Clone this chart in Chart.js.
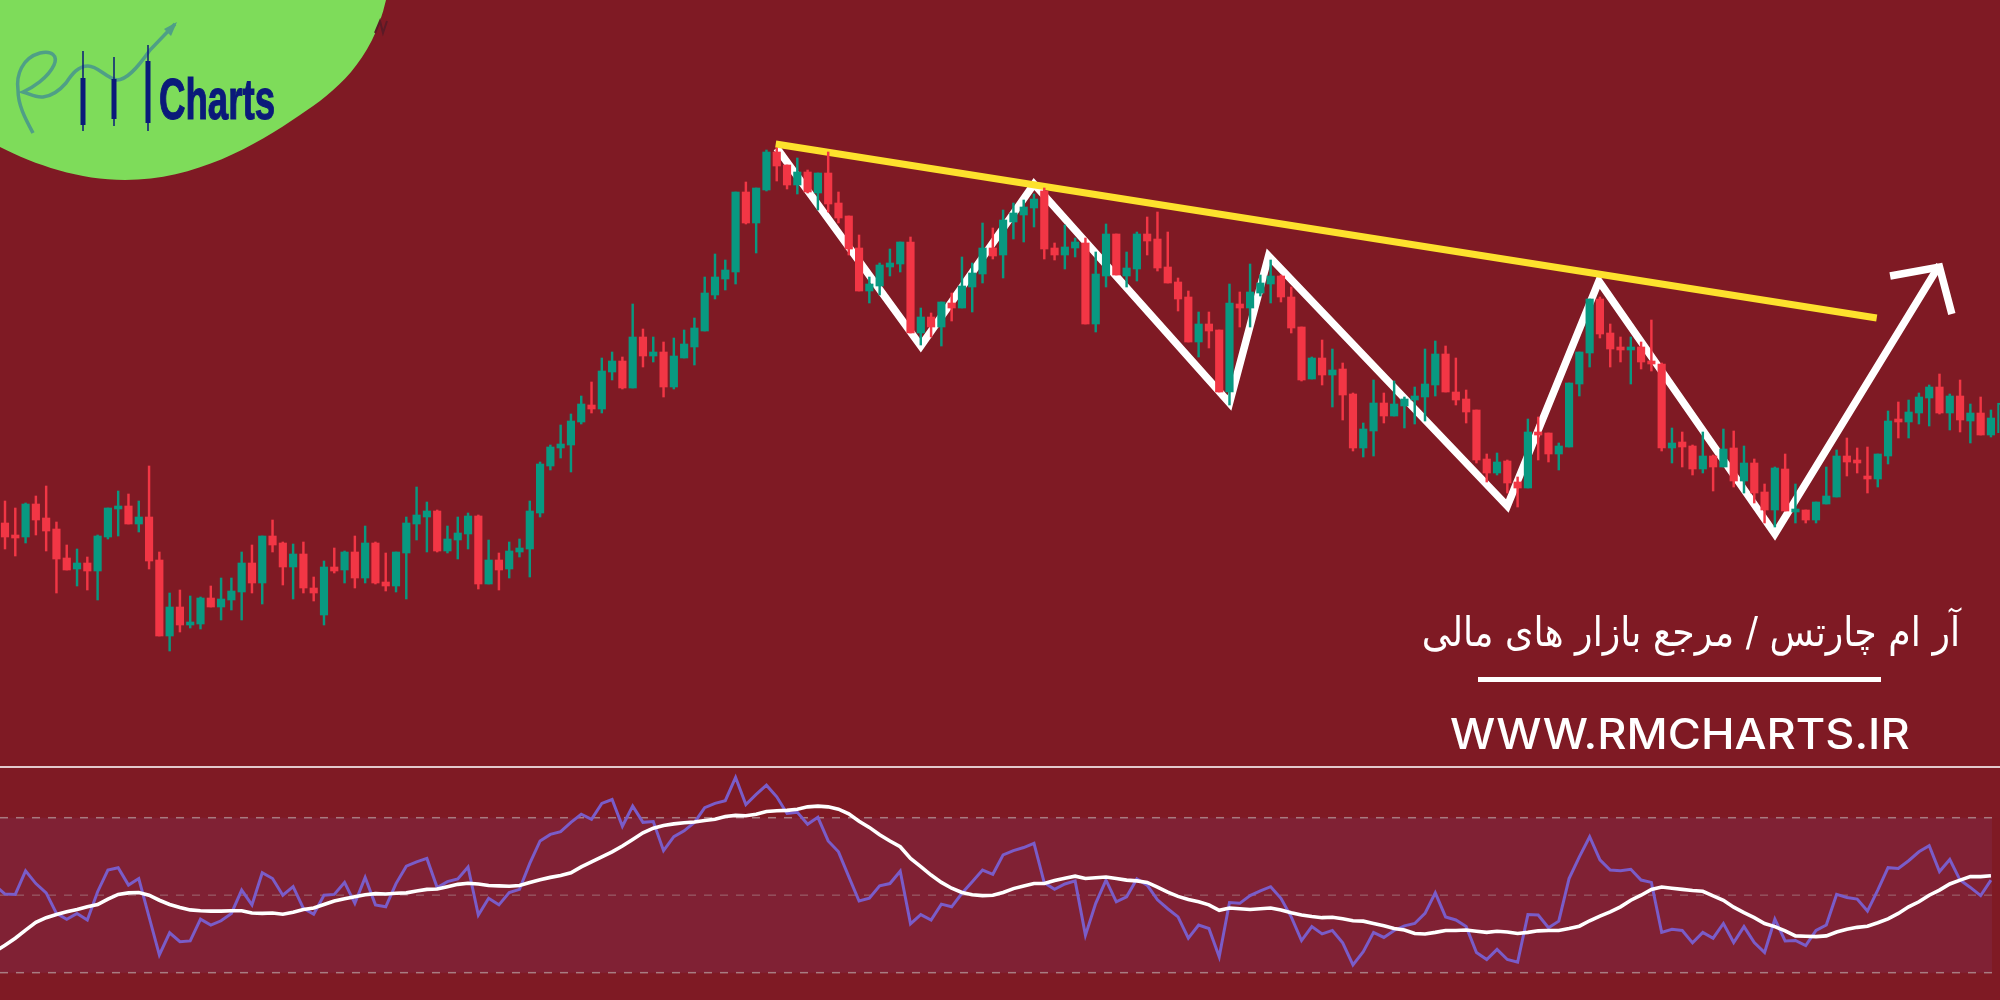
<!DOCTYPE html>
<html>
<head>
<meta charset="utf-8">
<script src="https://cdn.jsdelivr.net/npm/chart.js@4/dist/chart.umd.min.js"></script>
<style>
html, body { margin: 0; padding: 0; width: 2000px; height: 1000px; overflow: hidden; background: #7f1a24; }
canvas { position: absolute; left: 0; filter: blur(0.5px); }
#mainChart { top: 0; }
#rsiChart { top: 768px; }
#sep { position: absolute; left: 0; top: 766px; width: 2000px; height: 2px; background: #e2c9cc; }
#logo { position: absolute; left: 0; top: 0; }
#title { position: absolute; left: 1300px; width: 660px; top: 608px; text-align: right; direction: rtl; color: #fff; font: 41px "DejaVu Sans"; white-space: nowrap; transform: scaleX(0.885); transform-origin: right center; }
#rule { position: absolute; left: 1478px; top: 677px; width: 403px; height: 5px; background: #fff; }
#site { position: absolute; left: 1450px; top: 708px; color: #fff; font: 500 42px Inter; white-space: nowrap; transform: scaleX(1.075); transform-origin: left center; }
</style>
</head>
<body>
<canvas id="mainChart" width="2000" height="766"></canvas>
<canvas id="rsiChart" width="2000" height="232"></canvas>
<div id="sep"></div>
<svg id="logo" width="420" height="200">
  <path d="M0,0 L386,0 C372,62 335,92 300,115 C255,146 195,180 125,180 C80,180 35,165 0,147 Z" fill="#7edc5a"/>
  <path d="M33,133 C25,118 18,105 18,90 C16,75 22,58 40,53 C52,50 58,56 54,65 C48,78 32,88 23,92 C30,94 36,98 43,97 C52,96 60,90 66,83 C72,74 78,66 88,66 C98,66 106,78 117,80 C126,80 136,70 150,50 L175,24" fill="none" stroke="#4f9f86" stroke-width="3.5"/>
  <path d="M177,22 L164,29 L171,36 Z" fill="#4f9f86"/>
  <g stroke="#0a1a7a" fill="#0a1a7a">
    <line x1="83" y1="51" x2="83" y2="131" stroke-width="1.5"/><rect x="80.5" y="78" width="5" height="47" stroke="none"/>
    <line x1="114" y1="57" x2="114" y2="126" stroke-width="1.5"/><rect x="111.5" y="79" width="5" height="40" stroke="none"/>
    <line x1="148" y1="45" x2="148" y2="131" stroke-width="1.5"/><rect x="145.5" y="61" width="5" height="62" stroke="none"/>
  </g>
  <text x="159" y="119" font-family="Liberation Sans Narrow, Liberation Sans" font-weight="700" font-size="57" textLength="116" lengthAdjust="spacingAndGlyphs" fill="#0a1a7a" stroke="#0a1a7a" stroke-width="1.2">Charts</text>
  <path d="M375,33 L380,21 L383,33 L387,21" fill="none" stroke="#5a1a26" stroke-width="2"/>
</svg>
<div id="title">آر ام چارتس / مرجع بازار های مالی</div>
<div id="rule"></div>
<div id="site">WWW.RMCHARTS.IR</div>
<script>
// candles, one per bar
var opens = [
  477,464,463,496,482,471,442,431,437,429,
  463,491,494,476,483,440,364,393,375,376,
  402,393,400,408,437,417,464,457,433,446,
  412,385,433,430,448,422,457,418,414,447,
  476,483,489,449,460,466,484,416,440,431,
  448,451,487,534,552,555,578,595,591,628,
  639,612,663,644,648,613,642,653,669,705,
  721,728,808,777,810,848,835,815,828,807,
  827,797,784,752,709,714,733,736,758,667,
  683,673,697,692,713,726,752,745,778,785,
  792,809,752,745,752,757,676,724,766,724,
  731,766,761,733,718,703,658,676,670,608,
  696,692,707,716,724,703,673,621,642,625,
  631,606,552,569,597,584,594,600,603,615,
  646,608,601,590,541,527,539,518,512,567,
  567,546,553,616,647,701,667,652,650,653,
  639,636,552,558,554,531,544,533,552,519,
  537,508,490,531,488,490,480,496,503,544,
  540,523,521,544,579,578,587,602,613,587,
  604,579,587,565,567];
var highs = [
  499,492,497,504,514,478,455,451,443,465,
  492,509,506,499,534,448,407,410,404,403,
  414,422,422,448,455,464,480,458,456,458,
  423,439,452,449,464,474,458,447,448,483,
  513,498,490,474,483,487,485,460,447,458,
  461,499,538,555,575,586,604,618,642,648,
  643,696,671,663,658,662,670,682,723,746,
  740,808,818,812,850,852,835,842,830,827,
  848,808,784,765,723,737,751,758,763,692,
  687,698,707,743,737,777,772,790,797,800,
  806,812,757,775,762,762,748,776,766,748,
  768,783,788,768,722,709,688,688,670,716,
  708,736,725,740,725,713,673,643,660,651,
  637,607,577,620,607,619,603,613,651,659,
  654,642,610,590,546,547,540,523,581,583,
  567,557,617,648,701,703,676,663,663,658,
  680,637,572,568,555,568,545,571,569,554,
  541,516,533,546,516,490,498,533,550,562,
  552,553,546,589,598,600,607,615,626,606,
  620,596,603,590,597];
var lows = [
  451,444,457,465,449,407,430,414,410,400,
  461,464,476,468,431,364,349,368,372,371,
  393,380,390,380,407,396,448,415,401,407,
  399,375,427,417,412,417,416,409,408,401,
  460,448,448,447,441,451,411,416,410,422,
  443,423,483,530,542,528,576,587,587,620,
  611,612,633,638,603,611,642,635,669,701,
  710,716,776,747,809,819,811,806,807,790,
  788,777,745,709,697,705,724,728,667,655,
  663,654,679,692,688,717,741,722,761,758,
  773,741,740,731,743,676,668,713,725,713,
  719,745,729,717,689,658,643,652,608,595,
  673,673,704,697,698,667,619,621,615,593,
  580,549,543,544,577,584,572,576,579,604,
  608,595,577,537,518,525,507,493,512,540,
  538,530,553,604,633,662,633,638,616,631,
  629,549,537,533,525,527,509,533,513,507,
  497,477,473,489,477,477,477,496,503,524,
  527,507,513,536,562,562,576,574,586,570,
  568,557,565,563,567];
var closes = [
  463,462,496,480,469,441,430,437,429,464,
  492,494,476,483,439,364,393,375,378,402,
  393,401,409,437,417,464,455,433,446,412,
  407,433,429,448,422,457,417,414,448,477,
  485,489,449,461,467,484,416,440,430,449,
  452,489,536,553,556,579,596,591,629,639,
  612,663,644,648,613,644,656,672,707,723,
  730,808,777,812,848,834,815,828,808,827,
  796,782,751,709,716,735,737,758,667,683,
  673,698,692,714,727,752,744,780,787,793,
  801,751,745,753,758,676,726,766,725,732,
  766,759,732,717,701,658,676,669,608,697,
  692,708,717,724,703,672,620,642,625,630,
  605,552,571,597,584,596,601,604,616,646,
  608,600,588,540,527,538,517,512,568,565,
  546,554,617,648,701,666,651,650,652,638,
  636,552,557,553,531,544,533,551,519,537,
  507,490,532,489,491,480,498,504,544,538,
  537,521,546,579,578,588,603,613,587,604,
  580,587,565,582,597];

// rsi line and its average, the first entry sits one bar left of the picture
var rsiValues = [
  52.6,50.3,50.2,56.3,53.0,50.6,45.3,43.8,45.3,43.6,50.9,
  56.5,57.1,52.6,54.3,44.4,34.6,40.3,38.0,38.2,43.8,
  42.3,43.4,45.3,51.3,47.5,55.8,54.3,50.0,52.2,46.6,
  45.1,50.0,50.2,53.3,47.9,54.6,47.5,47.0,53.0,57.5,
  58.6,59.5,52.0,53.5,54.2,57.3,44.9,49.2,47.5,50.7,
  51.5,58.2,64.0,65.7,66.4,68.8,70.9,69.6,73.7,74.7,
  67.8,73.0,68.8,69.0,61.5,65.1,66.6,68.8,72.6,73.7,
  74.4,80.4,73.4,76.0,78.4,75.4,71.1,71.4,68.3,70.1,
  64.0,61.2,54.8,48.5,49.2,52.4,53.0,56.2,42.6,45.0,
  43.6,47.7,47.0,50.5,53.5,56.5,55.4,60.4,61.5,62.3,
  63.4,53.2,51.5,52.9,53.7,39.7,47.9,53.9,48.3,49.6,
  54.2,52.6,48.8,46.5,44.4,38.9,42.3,41.4,34.1,48.1,
  47.9,49.9,51.1,52.2,49.2,44.4,38.3,41.9,40.0,40.9,
  37.7,32.0,35.4,40.4,39.1,40.9,42.1,42.7,45.3,50.6,
  44.4,43.6,41.9,35.2,33.4,36.0,33.4,32.7,45.0,44.9,
  41.6,43.3,54.3,59.9,65.1,59.1,56.5,56.3,56.7,53.9,
  53.3,40.4,41.2,40.9,37.7,40.4,38.9,42.7,37.8,41.9,
  37.8,35.2,43.8,38.2,38.3,37.0,40.9,42.3,50.2,49.4,
  49.0,45.9,51.3,57.1,56.9,58.9,61.2,62.8,56.1,59.2,
  53.9,52.0,49.9,53.9];
var rsiAverage = [
  35.4,37.1,38.9,41.0,43.0,44.2,45.0,45.7,46.3,47.0,47.6,
  49.0,50.2,50.6,50.7,50.0,48.7,47.6,46.8,46.2,46.0,
  45.9,45.9,46.0,46.0,45.4,45.3,45.4,45.1,45.6,46.3,
  46.7,47.6,48.5,49.1,49.6,50.1,50.4,50.3,50.5,50.6,
  51.1,51.5,51.6,52.2,52.8,53.1,52.9,52.5,52.4,52.3,
  52.5,53.3,54.0,54.6,55.1,55.8,57.3,58.6,59.9,61.2,
  62.7,64.4,66.1,67.3,68.0,68.4,68.7,68.9,69.3,69.6,
  70.3,70.6,70.5,70.9,71.6,71.8,71.9,72.2,72.8,73.0,
  72.8,72.2,71.0,69.1,67.5,65.6,64.0,62.5,59.5,57.4,
  55.2,53.3,51.8,50.7,50.1,49.9,50.0,50.7,51.7,52.4,
  53.0,53.0,53.8,54.4,54.9,54.3,54.5,54.7,54.3,53.9,
  53.7,53.3,52.1,50.8,49.7,48.9,48.3,47.5,46.1,46.7,
  46.5,46.3,46.5,46.7,46.2,45.5,44.9,44.5,44.2,44.3,
  43.9,43.4,43.3,42.7,42.1,41.4,41.0,40.1,40.0,40.4,
  40.9,40.9,41.0,40.7,40.4,40.7,40.5,40.1,40.4,40.8,
  40.9,40.9,41.4,42.0,43.4,44.6,45.7,47.0,48.7,50.0,
  51.5,52.1,51.8,51.5,51.2,51.0,49.8,48.7,46.9,45.5,
  44.2,42.7,41.9,40.8,39.5,39.4,39.3,39.5,40.5,41.2,
  41.7,42.0,42.9,43.9,45.3,47.0,48.3,50.0,51.3,52.9,
  53.9,54.8,54.8,55.0];
var rsiLevels = [70, 50, 30];

// drawn lines, x is a bar number, y a price
var zigzagBars = [75, 89, 100, 119, 122.8, 146, 154.9, 172, 188];
var zigzagPrices = [852, 654, 816, 597, 744, 494, 719, 466, 735];
var arrowBars = [183.2, 188, 189.2];
var arrowPrices = [724, 733, 686];
var trendBars = [74.9, 181.9];
var trendPrices = [856, 682];

var GREEN = '#089981', RED = '#f23645';
var firstBar = -0.486, lastBar = 193.88;

function pairs(xs, ys) {
    return xs.map(function (x, i) { return { x: x, y: ys[i] }; });
}
var barColors = closes.map(function (c, i) { return c >= opens[i] ? GREEN : RED; });

var mainCtx = document.getElementById("mainChart").getContext("2d");
var mainChart = new Chart(mainCtx, {
    data: {
        datasets: [{
            type: 'bar',
            label: 'Body',
            order: 1,
            grouped: false,
            barThickness: 7.5,
            minBarLength: 3,
            data: opens.map(function (o, i) { return { x: i, y: [o, closes[i]] }; }),
            backgroundColor: barColors.map(function (c, i) { return i == opens.length - 1 ? 'rgba(0,0,0,0)' : c; }),
            borderColor: barColors,
            borderWidth: barColors.map(function (c, i) { return i == opens.length - 1 ? 1.5 : 0; })
        }, {
            type: 'bar',
            label: 'Wick',
            order: 2,
            grouped: false,
            barThickness: 1.8,
            data: highs.map(function (h, i) { return { x: i, y: [lows[i], h] }; }),
            backgroundColor: barColors.map(function (c, i) { return i == highs.length - 1 ? 'rgba(0,0,0,0)' : c; }),
            borderWidth: 0
        }, {
            type: 'line',
            label: 'Trend',
            order: 3,
            data: pairs(trendBars, trendPrices),
            borderColor: '#fde12d',
            borderWidth: 7,
            pointRadius: 0
        }, {
            type: 'line',
            label: 'Arrow',
            order: 4,
            data: pairs(arrowBars, arrowPrices),
            borderColor: '#fff',
            borderWidth: 7.5,
            pointRadius: 0
        }, {
            type: 'line',
            label: 'Zigzag',
            order: 5,
            data: pairs(zigzagBars, zigzagPrices),
            borderColor: '#fff',
            borderWidth: 7.5,
            pointRadius: 0
        }]
    },
    options: {
        responsive: false,
        animation: false,
        devicePixelRatio: 1,
        layout: { padding: 0 },
        plugins: { legend: { display: false }, tooltip: { enabled: false } },
        scales: {
            x: { type: 'linear', display: false, offset: false, min: firstBar, max: lastBar },
            y: { display: false, min: 234, max: 1000 }
        }
    }
});

var rsiCtx = document.getElementById("rsiChart").getContext("2d");
function levelLine(level, color, extra) {
    return Object.assign({
        type: 'line',
        data: pairs([firstBar, 193.1], [level, level]),
        borderColor: color,
        borderWidth: 1.5,
        borderDash: [8, 8],
        pointRadius: 0
    }, extra);
}
var rsiChart = new Chart(rsiCtx, {
    data: {
        datasets: [{
            type: 'line',
            label: 'RSI average',
            order: 1,
            data: rsiAverage.map(function (v, i) { return { x: i - 1, y: v }; }),
            borderColor: '#fff',
            borderWidth: 3.6,
            pointRadius: 0
        }, {
            type: 'line',
            label: 'RSI',
            order: 2,
            data: rsiValues.map(function (v, i) { return { x: i - 1, y: v }; }),
            borderColor: '#7a5cc8',
            borderWidth: 3,
            pointRadius: 0
        },
        levelLine(rsiLevels[0], 'rgba(190,175,175,0.65)', { order: 5, fill: '+2', backgroundColor: 'rgba(130,40,65,0.55)' }),
        levelLine(rsiLevels[1], 'rgba(190,175,175,0.35)', { order: 4 }),
        levelLine(rsiLevels[2], 'rgba(190,175,175,0.65)', { order: 3 })]
    },
    options: {
        responsive: false,
        animation: false,
        devicePixelRatio: 1,
        layout: { padding: 0 },
        plugins: { legend: { display: false }, tooltip: { enabled: false } },
        scales: {
            x: { type: 'linear', display: false, min: firstBar, max: lastBar },
            y: { display: false, min: 22.95, max: 82.83 }
        }
    }
});
</script>
</body>
</html>
